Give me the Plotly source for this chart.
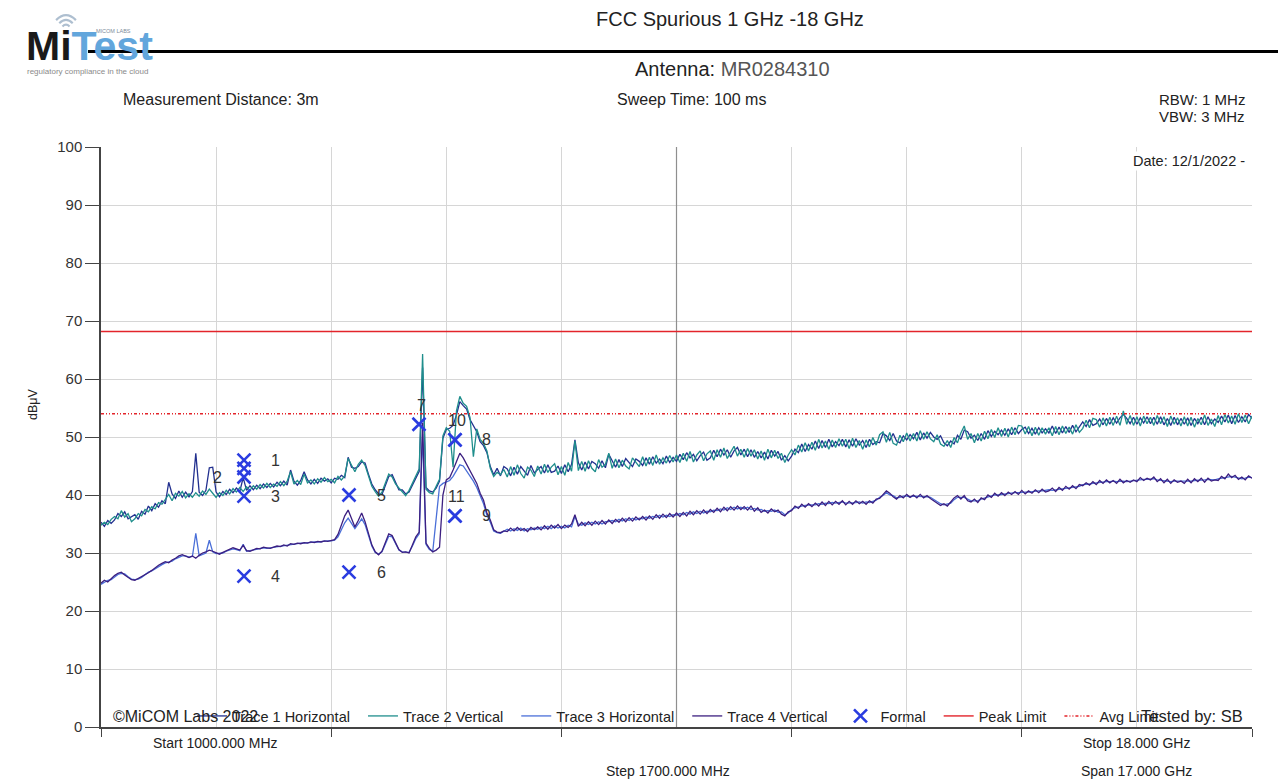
import numpy as np
import plotly.graph_objects as go

FONT = "Liberation Sans, Arial, sans-serif"

# ---------------------------------------------------------------- data
sweep_start_mhz = 1000
sweep_stop_mhz = 18000
sweep_step_mhz = 50
freq_mhz = np.arange(sweep_start_mhz, sweep_stop_mhz + 1, sweep_step_mhz)

# Peak detector, horizontal polarisation (dBuV), one row per 500 MHz
trace1_horizontal = [
    35.3, 34.6, 35.6, 35.1, 35.7, 36.8, 36.3, 37.1, 35.9, 36.3,
    36.6, 35.8, 37.2, 36.7, 38.1, 37.3, 38.5, 37.9, 39.0, 38.5,
    42.2, 40.2, 39.4, 40.7, 39.6, 40.5, 39.7, 40.6, 47.2, 40.5,
    39.9, 40.8, 44.7, 44.8, 40.5, 39.7, 40.6, 40.1, 41.0, 40.4,
    41.2, 40.6, 43.0, 40.8, 41.6, 40.9, 41.7, 41.1, 41.9, 41.3,
    42.0, 41.4, 42.2, 41.6, 42.4, 41.7, 44.3, 42.4, 41.7, 42.5,
    44.0, 42.6, 41.9, 42.7, 42.0, 42.9, 42.4, 42.8, 42.1, 42.9,
    42.7, 43.4, 43.0, 46.5, 44.8, 44.6, 44.9, 45.7, 45.5, 43.6,
    41.9, 40.9, 40.2, 40.1, 41.7, 43.2, 43.5, 42.2, 40.9, 40.9,
    40.2, 40.5, 41.8, 43.1, 44.1, 62.0, 41.3, 40.7, 40.5, 41.2,
    42.4, 49.8, 51.3, 51.5, 52.0, 53.8, 56.1, 55.4, 54.8, 53.0,
    52.0, 50.9, 49.2, 48.5, 47.3, 44.9, 43.5, 44.6, 43.3, 44.9,
    44.5, 43.3, 44.8, 43.6, 44.9, 44.2, 43.4, 45.1, 43.8, 44.4,
    44.9, 43.8, 45.2, 43.9, 44.1, 45.0, 43.7, 45.2, 44.0, 45.3,
    49.5, 45.6, 44.3, 45.7, 44.5, 45.8, 45.4, 44.6, 45.9, 44.7,
    47.0, 45.9, 44.8, 46.1, 44.9, 46.3, 45.6, 44.9, 46.2, 45.8,
    45.1, 46.4, 45.3, 46.6, 45.5, 46.2, 45.4, 46.7, 45.6, 46.5,
    45.8, 47.0, 46.1, 47.3, 46.4, 47.0, 45.9, 46.8, 47.4, 46.0,
    46.4, 47.7, 46.6, 47.9, 46.9, 47.8, 46.5, 47.6, 48.2, 46.9,
    47.9, 46.6, 47.8, 46.5, 47.5, 46.4, 47.4, 46.2, 47.7, 46.7,
    47.5, 46.0, 46.8, 45.9, 46.7, 47.9, 47.3, 48.8, 47.5, 48.7,
    47.9, 49.3, 48.0, 49.4, 48.2, 49.6, 48.3, 49.2, 48.5, 49.6,
    48.3, 49.5, 48.4, 49.7, 48.6, 49.4, 48.2, 49.6, 48.7, 49.2,
    49.0, 50.6, 50.2, 49.4, 50.6, 49.3, 49.0, 50.2, 49.5, 50.4,
    49.7, 50.8, 49.5, 50.7, 49.8, 50.8, 50.0, 49.6, 50.2, 49.0,
    48.5, 49.3, 48.8, 50.3, 49.6, 51.2, 50.9, 49.8, 50.3, 49.4,
    50.6, 49.6, 51.1, 50.1, 51.0, 50.4, 51.2, 50.3, 51.4, 50.4,
    51.6, 50.6, 51.3, 51.7, 50.6, 51.5, 50.5, 51.6, 50.7, 51.4,
    50.7, 51.9, 50.6, 51.7, 50.7, 51.8, 50.8, 52.0, 50.9, 51.7,
    52.6, 51.8, 53.0, 52.0, 52.3, 53.1, 52.1, 53.2, 52.2, 53.3,
    52.4, 53.3, 53.9, 53.2, 52.3, 53.4, 52.2, 53.3, 52.4, 53.5,
    52.3, 53.4, 52.2, 53.5, 52.1, 53.2, 52.0, 53.4, 52.1, 53.2,
    52.2, 53.3, 52.0, 53.2, 52.3, 53.4, 52.1, 53.5, 52.3, 53.1,
    52.5, 53.6, 52.6, 53.8, 52.3, 53.7, 52.5, 53.5, 52.6, 53.9,
    53.2,
]

# Peak detector, vertical polarisation (dBuV)
trace2_vertical = [
    34.8, 35.3, 34.9, 35.8, 36.3, 35.9, 37.3, 36.2, 36.8, 35.4,
    35.9, 36.8, 36.4, 37.5, 37.1, 38.0, 37.6, 38.7, 38.4, 39.2,
    40.1, 39.0, 40.3, 39.8, 40.6, 39.5, 40.2, 39.6, 40.4, 39.8,
    40.7, 40.1, 41.0, 40.3, 39.6, 40.4, 39.9, 40.8, 40.2, 41.1,
    40.5, 41.3, 40.6, 41.4, 40.8, 41.6, 41.0, 41.8, 41.2, 42.0,
    41.3, 41.9, 41.5, 42.3, 41.6, 42.4, 44.0, 41.9, 42.5, 41.8,
    43.6, 42.1, 42.6, 41.9, 42.8, 42.2, 43.0, 42.3, 42.7, 42.1,
    43.2, 42.6, 43.3, 46.3, 45.2, 44.0, 45.3, 46.0, 45.1, 43.2,
    41.5, 40.6, 39.8, 40.5, 42.0, 43.6, 43.1, 41.9, 41.2, 40.6,
    39.9, 40.8, 42.1, 43.5, 44.5, 64.3, 41.0, 40.4, 40.2, 41.5,
    42.7, 50.2, 51.6, 51.0, 44.8, 54.5, 57.0, 55.8, 55.3, 53.4,
    46.6, 51.4, 49.6, 48.9, 47.6, 44.6, 43.2, 43.9, 43.5, 44.4,
    43.1, 44.9, 43.4, 45.2, 43.7, 42.9, 44.8, 44.3, 43.2, 45.0,
    43.6, 45.3, 43.9, 44.8, 45.4, 43.5, 44.9, 43.4, 45.6, 44.1,
    49.3, 44.2, 45.8, 44.1, 45.9, 44.6, 44.0, 46.1, 44.8, 45.3,
    47.2, 44.6, 46.2, 44.7, 46.0, 45.0, 44.5, 46.4, 45.6, 44.9,
    46.6, 45.0, 46.5, 45.1, 46.9, 45.3, 46.4, 45.5, 46.8, 45.7,
    46.9, 45.6, 47.2, 45.8, 47.5, 45.7, 46.9, 47.6, 45.9, 47.1,
    47.6, 46.0, 47.8, 46.5, 48.1, 46.3, 47.4, 48.4, 46.7, 47.9,
    46.5, 48.0, 46.7, 47.8, 46.2, 47.6, 46.0, 47.9, 46.4, 47.7,
    46.3, 47.2, 45.6, 46.9, 47.8, 46.9, 48.6, 47.4, 49.0, 47.6,
    49.1, 47.7, 49.6, 48.1, 49.3, 47.9, 49.5, 48.2, 49.7, 48.4,
    49.6, 48.0, 49.8, 48.2, 49.4, 47.9, 49.5, 48.3, 49.9, 48.6,
    50.4, 50.9, 49.1, 50.8, 48.9, 48.6, 50.3, 49.2, 50.7, 49.3,
    50.6, 49.3, 51.1, 49.6, 50.9, 49.7, 49.2, 50.4, 48.8, 48.4,
    49.4, 48.2, 49.9, 49.0, 50.7, 51.9, 49.6, 50.6, 49.0, 50.6,
    49.3, 51.0, 49.7, 51.3, 49.9, 51.6, 50.1, 51.5, 50.0, 51.7,
    50.4, 52.0, 51.9, 50.5, 51.8, 50.2, 51.7, 50.3, 51.6, 50.5,
    51.6, 50.2, 51.8, 50.4, 51.9, 50.6, 51.7, 50.5, 52.1, 50.8,
    51.5, 52.9, 51.6, 53.2, 53.0, 51.7, 53.3, 51.9, 53.4, 52.0,
    53.6, 52.0, 54.5, 52.2, 53.7, 52.0, 53.5, 51.9, 53.6, 52.3,
    53.4, 52.0, 53.7, 52.3, 53.5, 51.8, 53.6, 52.2, 53.3, 51.9,
    53.5, 51.9, 53.4, 51.7, 53.2, 52.1, 53.8, 52.0, 53.1, 51.8,
    53.7, 52.1, 53.9, 52.4, 53.6, 52.2, 54.0, 52.5, 53.8, 52.3,
    53.6,
]

# Average detector, horizontal polarisation (dBuV)
trace3_horizontal = [
    24.6, 25.0, 25.3, 25.4, 25.9, 26.3, 26.5, 26.4, 25.9, 25.5,
    25.4, 25.5, 25.8, 26.2, 26.7, 26.9, 27.3, 27.7, 28.0, 28.3,
    28.4, 28.6, 29.0, 29.3, 29.5, 29.5, 29.3, 29.4, 33.4, 29.5,
    29.8, 30.0, 32.2, 30.2, 29.9, 29.9, 30.0, 30.3, 30.5, 30.7,
    30.6, 30.4, 31.5, 30.3, 30.4, 30.5, 30.7, 30.8, 30.9, 30.8,
    30.9, 30.9, 31.1, 31.2, 31.3, 31.3, 31.5, 31.5, 31.6, 31.7,
    31.7, 31.8, 31.8, 31.9, 31.9, 32.0, 32.0, 32.1, 32.1, 32.2,
    32.8, 34.1, 35.2, 36.0, 35.2, 34.2, 35.0, 35.9, 34.9, 33.0,
    31.2, 30.1, 29.8, 30.2, 31.6, 32.9, 32.8, 31.5, 30.5, 30.2,
    30.1, 30.1, 31.2, 32.5, 33.3, 50.5, 31.5, 30.6, 30.3, 36.0,
    41.5, 42.0, 42.3, 42.5, 43.2, 44.1, 45.2, 45.0, 44.2, 43.3,
    42.4, 41.3, 39.8, 38.5, 36.5, 35.3, 33.8, 33.5, 33.4, 33.7,
    34.1, 33.8, 34.2, 33.9, 34.3, 33.8, 34.2, 34.0, 34.3, 34.1,
    34.5, 34.2, 34.6, 34.2, 34.7, 34.3, 34.6, 34.3, 34.8, 34.5,
    36.3, 35.0, 34.8, 35.2, 34.9, 35.3, 35.0, 35.4, 35.0, 35.4,
    35.4, 35.6, 35.4, 35.8, 35.5, 35.9, 35.6, 36.0, 35.7, 36.0,
    35.9, 36.2, 36.0, 36.3, 36.1, 36.5, 36.2, 36.5, 36.3, 36.6,
    36.5, 36.8, 36.6, 37.0, 36.7, 37.1, 36.8, 37.2, 36.9, 37.2,
    37.1, 37.4, 37.3, 37.6, 37.4, 37.8, 37.5, 37.9, 37.6, 37.9,
    37.6, 37.9, 37.5, 37.7, 37.4, 37.5, 37.2, 37.3, 37.2, 37.4,
    37.0, 37.1, 36.6, 36.9, 37.5, 37.8, 38.0, 38.1, 38.2, 38.3,
    38.3, 38.3, 38.5, 38.4, 38.6, 38.5, 38.7, 38.6, 38.7, 38.8,
    38.6, 38.6, 38.7, 38.7, 38.8, 38.6, 38.8, 38.7, 38.9, 39.1,
    39.6, 39.9, 40.4, 40.0, 39.9, 39.5, 39.6, 39.8, 39.8, 39.7,
    39.8, 39.8, 39.8, 39.7, 39.7, 39.6, 39.2, 38.9, 38.5, 38.3,
    38.4, 38.6, 39.2, 39.6, 39.6, 39.6, 39.3, 39.0, 39.0, 39.0,
    39.3, 39.5, 39.7, 39.9, 40.0, 40.0, 40.1, 40.2, 40.3, 40.3,
    40.4, 40.4, 40.5, 40.5, 40.5, 40.6, 40.6, 40.7, 40.7, 40.8,
    40.9, 40.8, 40.9, 41.0, 41.1, 41.2, 41.3, 41.3, 41.4, 41.5,
    41.8, 41.8, 41.9, 42.0, 42.1, 42.2, 42.2, 42.3, 42.3, 42.4,
    42.3, 42.4, 42.4, 42.3, 42.4, 42.4, 42.6, 42.7, 42.7, 42.7,
    42.8, 42.8, 42.6, 42.5, 42.4, 42.4, 42.3, 42.4, 42.4, 42.3,
    42.3, 42.4, 42.4, 42.5, 42.5, 42.6, 42.6, 42.7, 42.6, 42.6,
    42.8, 42.9, 43.0, 43.2, 43.2, 43.1, 42.9, 42.8, 42.9, 43.1,
    43.0,
]

# Average detector, vertical polarisation (dBuV)
trace4_vertical = [
    24.8, 25.3, 25.0, 25.6, 26.1, 26.5, 26.7, 26.2, 25.8, 25.4,
    25.3, 25.6, 25.9, 26.3, 26.6, 27.0, 27.5, 27.9, 28.2, 28.5,
    28.3, 28.8, 29.1, 29.5, 29.7, 29.4, 29.2, 29.5, 29.1, 29.6,
    30.0, 30.2, 30.5, 30.3, 30.0, 29.8, 30.1, 30.4, 30.6, 30.9,
    30.7, 30.5, 31.3, 30.4, 30.3, 30.6, 30.8, 30.7, 31.0, 30.9,
    30.8, 31.0, 31.2, 31.1, 31.4, 31.2, 31.6, 31.5, 31.7, 31.6,
    31.8, 31.7, 31.9, 31.8, 32.0, 31.9, 32.1, 32.0, 32.2, 32.3,
    33.2, 35.0, 36.4, 37.4, 35.8, 34.5, 35.6, 36.9, 35.4, 33.2,
    31.4, 30.2, 29.7, 30.3, 31.9, 33.3, 33.0, 31.7, 30.6, 30.1,
    30.2, 30.0, 31.4, 32.8, 33.6, 52.4, 31.7, 30.8, 30.2, 30.5,
    31.0, 40.0, 42.6, 43.0, 44.3, 45.6, 47.2, 46.4, 45.3, 44.2,
    43.1, 42.0, 40.3, 39.1, 36.9, 35.7, 34.0, 33.6, 33.5, 33.8,
    33.7, 34.3, 33.8, 34.4, 33.9, 34.2, 33.7, 34.4, 34.0, 34.5,
    34.0, 34.7, 34.1, 34.8, 34.3, 34.9, 34.2, 34.8, 34.4, 35.0,
    36.6, 34.6, 35.3, 34.7, 35.4, 34.8, 35.5, 34.9, 35.6, 35.0,
    35.7, 35.1, 35.8, 35.3, 36.0, 35.4, 36.1, 35.5, 36.2, 35.7,
    36.3, 35.7, 36.4, 35.8, 36.6, 36.0, 36.7, 36.1, 36.8, 36.2,
    36.9, 36.3, 37.0, 36.4, 37.2, 36.6, 37.3, 36.7, 37.4, 36.8,
    37.5, 37.0, 37.7, 37.1, 37.9, 37.3, 38.0, 37.4, 38.1, 37.5,
    38.0, 37.4, 38.1, 37.2, 37.8, 37.0, 37.4, 36.9, 37.6, 37.1,
    37.4, 36.7, 36.4, 37.1, 37.3, 38.1, 37.7, 38.4, 37.9, 38.5,
    38.0, 38.6, 38.1, 38.8, 38.2, 38.9, 38.3, 38.9, 38.4, 39.0,
    38.3, 38.9, 38.4, 39.0, 38.5, 38.9, 38.4, 39.0, 38.6, 39.3,
    39.4, 40.1, 40.7, 40.3, 39.7, 39.3, 39.9, 39.5, 40.1, 39.6,
    40.0, 39.5, 40.1, 39.5, 39.9, 39.4, 39.0, 38.7, 38.2, 38.5,
    38.1, 38.8, 39.5, 39.9, 39.3, 39.9, 39.0, 38.8, 39.3, 38.7,
    39.5, 39.2, 40.0, 39.6, 40.3, 39.8, 40.4, 39.9, 40.5, 40.1,
    40.6, 40.1, 40.8, 40.2, 40.7, 40.3, 40.9, 40.4, 41.0, 40.5,
    40.7, 41.2, 40.6, 41.3, 40.8, 41.5, 41.0, 41.6, 41.1, 41.8,
    41.6, 42.1, 41.7, 42.3, 41.8, 42.5, 42.0, 42.6, 42.1, 42.5,
    42.0, 42.7, 42.1, 42.5, 42.2, 42.6, 42.3, 43.0, 42.5, 42.9,
    42.6, 43.1, 42.3, 42.8, 42.1, 42.7, 42.0, 42.6, 42.2, 42.4,
    42.0, 42.7, 42.1, 42.8, 42.3, 42.9, 42.2, 42.9, 42.4, 42.6,
    42.5, 43.2, 42.8, 43.6, 43.0, 43.4, 42.7, 43.1, 42.6, 43.3,
    42.9,
]

for series in (trace1_horizontal, trace2_vertical, trace3_horizontal, trace4_vertical):
    assert len(series) == len(freq_mhz)

# Limit lines (dBuV)
limit_freq_mhz = [sweep_start_mhz, sweep_stop_mhz]
peak_limit = [68.2, 68.2]
avg_limit = [54.0, 54.0]

# Formal (final) measurements
formal_freq_mhz = [3112, 3112, 3112, 3112, 3112, 4663, 4663, 5697, 6228, 6228, 6228, 6228]
formal_level = [46.0, 44.6, 43.1, 39.8, 26.0, 40.0, 26.7, 52.2, 49.5, 36.4, 49.5, 36.4]
formal_label = ["1", "", "2", "3", "4", "5", "6", "7", "8", "9", "10", "11"]

# ---------------------------------------------------------------- styling
C_T1 = "#22308f"
C_T2 = "#1f8e8c"
C_T3 = "#4a6fd8"
C_T4 = "#3c1f80"
C_FORMAL = "#2a3ce0"
C_LIMIT = "#e3242b"
C_GRID = "#d6d6d6"
C_AXIS = "#444444"
C_TEXT = "#222222"

# plot rectangle on the page, in pixels
PLOT_L, PLOT_R, PLOT_T, PLOT_B = 101, 1252, 147, 727


def px(x):
    return (x - PLOT_L) / (PLOT_R - PLOT_L)


def py(y):
    return (PLOT_B - y) / (PLOT_B - PLOT_T)


NBSP = "\u00a0\u00a0"
fig = go.Figure()

fig.add_trace(go.Scatter(x=freq_mhz, y=trace1_horizontal, mode="lines", name="Trace 1 Horizontal" + NBSP,
                         line=dict(color=C_T1, width=1.3)))
fig.add_trace(go.Scatter(x=freq_mhz, y=trace2_vertical, mode="lines", name="Trace 2 Vertical" + NBSP,
                         line=dict(color=C_T2, width=1.3)))
fig.add_trace(go.Scatter(x=freq_mhz, y=trace3_horizontal, mode="lines", name="Trace 3 Horizontal" + NBSP,
                         line=dict(color=C_T3, width=1.3)))
fig.add_trace(go.Scatter(x=freq_mhz, y=trace4_vertical, mode="lines", name="Trace 4 Vertical" + NBSP,
                         line=dict(color=C_T4, width=1.3)))
fig.add_trace(go.Scatter(x=formal_freq_mhz, y=formal_level, mode="markers", name="Formal" + NBSP,
                         marker=dict(symbol="x-thin", size=13, color=C_FORMAL,
                                     line=dict(width=2.6, color=C_FORMAL))))
fig.add_trace(go.Scatter(x=limit_freq_mhz, y=peak_limit, mode="lines", name="Peak Limit" + NBSP,
                         line=dict(color=C_LIMIT, width=1.4)))
fig.add_trace(go.Scatter(x=limit_freq_mhz, y=avg_limit, mode="lines", name="Avg Limit",
                         line=dict(color=C_LIMIT, width=1.4, dash="3px,2px,1px,2px,1px,2px")))

annotations = []

# formal marker numbers
label_side = {"2": "left", "7": "above", "10": "above", "11": "above"}
for f, lv, lab in zip(formal_freq_mhz, formal_level, formal_label):
    if not lab:
        continue
    side = label_side.get(lab, "right")
    shift = {"right": (32, 0), "left": (-26, 0), "above": (2, 19)}[side]
    annotations.append(dict(x=f, y=lv, xref="x", yref="y", text=lab, showarrow=False,
                            xshift=shift[0], yshift=shift[1],
                            font=dict(family=FONT, size=16, color="#333333")))


def page_text(text, x, y, size, xanchor="center", color=C_TEXT, **kw):
    annotations.append(dict(text=text, x=px(x), y=py(y), xref="paper", yref="paper",
                            xanchor=xanchor, yanchor="middle", showarrow=False,
                            font=dict(family=FONT, size=size, color=color), **kw))


# logo
page_text("<b>Mi<span style='color:#62a6dc'>Test</span></b>", 24, 46, 41, xanchor="left", color="#1a1a1a")
page_text("MICOM LABS", 94, 31, 5.5, xanchor="left", color="#7d8a99")
page_text("regulatory compliance in the cloud", 25, 72, 8, xanchor="left", color="#8a8a8a")

# header
page_text("FCC Spurious 1 GHz -18 GHz", 730, 19, 20)
page_text("Antenna: <span style='color:#555555'>MR0284310</span>", 732, 69, 20)
page_text("Measurement Distance: 3m", 121, 99, 16, xanchor="left")
page_text("Sweep Time: 100 ms", 615, 99, 16, xanchor="left")
page_text("RBW: 1 MHz", 1247, 99, 15, xanchor="right")
page_text("VBW: 3 MHz", 1247, 116, 15, xanchor="right")
page_text("Date: 12/1/2022 -", 1247, 161, 14.5, xanchor="right", bgcolor="white")

# axis captions
page_text("dB\u03bcV", 33, 405, 12.5, textangle=-90)
page_text("Start 1000.000 MHz", 215, 743, 14)
page_text("Stop 18.000 GHz", 1136, 743, 14)
page_text("Step 1700.000 MHz", 668, 771, 14)
page_text("Span 17.000 GHz", 1136, 771, 14)

# footer inside the plot
page_text("\u00a9MiCOM Labs 2022", 111, 716, 16, xanchor="left")
page_text("Tested by: SB", 1245, 716, 16.5, xanchor="right")

shapes = [
    # heavy rule under the heading
    dict(type="line", xref="paper", yref="paper", x0=px(88), x1=px(1278), y0=py(51.5), y1=py(51.5),
         line=dict(color="black", width=3), layer="above"),
    # centre frequency marker line
    dict(type="line", xref="x", yref="y", x0=9500, x1=9500, y0=0, y1=100,
         line=dict(color="#8f8f8f", width=1.2), layer="between"),
]

# wifi arcs above the logo
cx, cy = 66, 30
for r in (5.0, 9.5, 14.0):
    d = r * 0.7071
    path = "M{},{} Q{},{} {},{}".format(px(cx - d), py(cy - d), px(cx), py(cy - r * 1.414),
                                         px(cx + d), py(cy - d))
    shapes.append(dict(type="path", xref="paper", yref="paper", path=path,
                       line=dict(color="#aebfd0", width=2.2)))

fig.update_layout(
    width=1278, height=780, autosize=False,
    margin=dict(l=PLOT_L, r=1278 - PLOT_R, t=PLOT_T, b=780 - PLOT_B, pad=0),
    paper_bgcolor="white", plot_bgcolor="white",
    font=dict(family=FONT, color=C_TEXT),
    hovermode=False,
    showlegend=True,
    legend=dict(orientation="h", x=px(192), y=py(716), xanchor="left", yanchor="middle",
                bgcolor="rgba(0,0,0,0)", borderwidth=0,
                font=dict(family=FONT, size=14.5, color=C_TEXT)),
    xaxis=dict(range=[sweep_start_mhz, sweep_stop_mhz], tick0=sweep_start_mhz, dtick=3400,
               ticks="outside", ticklen=8, tickwidth=1.3, tickcolor=C_AXIS,
               showticklabels=False, showgrid=True, gridcolor=C_GRID, gridwidth=1,
               minor=dict(tick0=sweep_start_mhz, dtick=1700, showgrid=True, gridcolor=C_GRID,
                          gridwidth=1, ticks=""),
               showline=True, linecolor=C_AXIS, linewidth=1.5, zeroline=False),
    yaxis=dict(range=[0, 100], tick0=0, dtick=10, ticks="outside", ticklen=14, tickwidth=1.3,
               tickcolor=C_AXIS, tickfont=dict(family=FONT, size=15, color="#333333"),
               showgrid=True, gridcolor=C_GRID, gridwidth=1,
               showline=True, linecolor=C_AXIS, linewidth=1.5, zeroline=False),
    annotations=annotations,
    shapes=shapes,
)

fig.write_html("out.html", config={"displayModeBar": False})
